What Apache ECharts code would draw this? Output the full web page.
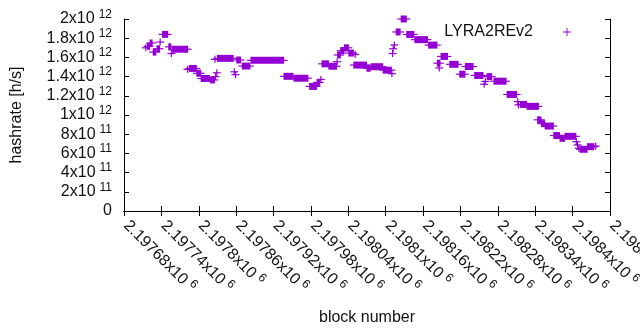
<!DOCTYPE html>
<html>
<head>
<meta charset="utf-8">
<script src="https://cdn.jsdelivr.net/npm/echarts@6/dist/echarts.min.js"></script>
<style>
  html, body { margin: 0; padding: 0; background: #fff; }
  #main { width: 640px; height: 330px; }
</style>
</head>
<body>
<div id="main"></div>
<script>
// x axis: block number
var blockMin = 2197680;
var blockMax = 2198460;
var blockStep = 60;
// y axis: hashrate
var rateMax = 2e12;
var rateStep = 2e11;

// runs of consecutive blocks sharing one hashrate value (a single point when start == end)
var runStart = [
  2197715, 2197718, 2197722, 2197727, 2197733, 2197738, 2197742, 2197752, 2197756, 2197758,
  2197782, 2197785, 2197797, 2197804, 2197819, 2197826, 2197827, 2197829, 2197830, 2197857,
  2197859, 2197861, 2197870, 2197884, 2197937, 2197953, 2197978, 2197990, 2197996, 2197998,
  2198009, 2198022, 2198023, 2198028, 2198034, 2198041, 2198049, 2198051, 2198070, 2198077,
  2198096, 2198110, 2198111, 2198112, 2198114, 2198117, 2198125, 2198134, 2198147, 2198169,
  2198183, 2198186, 2198189, 2198203, 2198219, 2198228, 2198243, 2198258, 2198260, 2198263,
  2198274, 2198295, 2198312, 2198313, 2198316, 2198327, 2198344, 2198350, 2198356, 2198370,
  2198380, 2198388, 2198406, 2198408, 2198410, 2198412, 2198424, 2198437
];
var runEnd = [
  2197715, 2197721, 2197725, 2197731, 2197737, 2197738, 2197750, 2197755, 2197756, 2197782,
  2197782, 2197796, 2197803, 2197817, 2197825, 2197826, 2197827, 2197829, 2197855, 2197857,
  2197859, 2197867, 2197882, 2197936, 2197951, 2197975, 2197989, 2197994, 2197996, 2198008,
  2198021, 2198022, 2198027, 2198033, 2198040, 2198048, 2198069, 2198051, 2198075, 2198095,
  2198109, 2198110, 2198111, 2198112, 2198114, 2198123, 2198133, 2198145, 2198167, 2198182,
  2198187, 2198186, 2198199, 2198216, 2198227, 2198240, 2198256, 2198258, 2198260, 2198270,
  2198293, 2198310, 2198312, 2198313, 2198326, 2198345, 2198349, 2198355, 2198369, 2198379,
  2198387, 2198405, 2198406, 2198408, 2198410, 2198423, 2198434, 2198437
];
var runValue = [
  1.70e12, 1.715e12, 1.75e12, 1.655e12, 1.69e12, 1.76e12, 1.84e12, 1.71e12, 1.64e12, 1.685e12,
  1.475e12, 1.485e12, 1.435e12, 1.38e12, 1.365e12, 1.58e12, 1.40e12, 1.44e12, 1.59e12, 1.45e12,
  1.42e12, 1.573e12, 1.51e12, 1.57e12, 1.403e12, 1.383e12, 1.298e12, 1.34e12, 1.37e12, 1.533e12,
  1.508e12, 1.555e12, 1.625e12, 1.67e12, 1.70e12, 1.645e12, 1.52e12, 1.63e12, 1.487e12, 1.503e12,
  1.467e12, 1.43e12, 1.64e12, 1.69e12, 1.73e12, 1.865e12, 2.0e12, 1.839e12, 1.785e12, 1.728e12,
  1.54e12, 1.49e12, 1.61e12, 1.528e12, 1.425e12, 1.505e12, 1.412e12, 1.32e12, 1.35e12, 1.40e12,
  1.352e12, 1.214e12, 1.14e12, 1.105e12, 1.11e12, 1.09e12, 0.95e12, 0.91e12, 0.885e12, 0.786e12,
  0.757e12, 0.778e12, 0.722e12, 0.688e12, 0.653e12, 0.643e12, 0.67e12, 0.677e12
];

var seriesName = 'LYRA2REv2';
var color = '#9400d3';

var myChart = echarts.init(document.getElementById('main'));

// gnuplot-like "2x10^12" labels
function sciLabel(v) {
  if (v === 0) return '{b|0}';
  var e = Math.floor(Math.log10(v) + 1e-9);
  var m = parseFloat((v / Math.pow(10, e)).toFixed(6));
  return '{b|' + m + 'x10}{s|' + e + '}';
}

var richText = {
  b: { fontSize: 16, color: '#111', fontFamily: 'Liberation Sans' },
  s: { fontSize: 12, color: '#111', fontFamily: 'Liberation Sans', padding: [0, 0, 9, 4] }
};

var tickStyle = { show: true, inside: true, length: 5, lineStyle: { color: '#000', width: 1 } };
var lineStyle = { show: true, lineStyle: { color: '#000', width: 1 } };

var data = runStart.map(function (s, i) {
  return [s, runEnd[i], runValue[i]];
});

var option = {
  animation: false,
  backgroundColor: '#fff',
  textStyle: { fontFamily: 'Liberation Sans' },
  grid: { left: 124, right: 30, top: 19, bottom: 119, containLabel: false, outerBoundsMode: 'none' },
  legend: {
    right: 64,
    top: 19,
    align: 'right',
    itemWidth: 8,
    itemHeight: 8,
    textStyle: { fontSize: 16, color: '#111', padding: [0, 25, 0, 0] },
    data: [{
      name: seriesName,
      icon: 'path://M0,4.4H10V5.6H0Z M4.4,0H5.6V10H4.4Z',
      itemStyle: { color: color }
    }]
  },
  xAxis: [{
    type: 'value',
    position: 'bottom',
    min: blockMin,
    max: blockMax,
    interval: blockStep,
    axisLine: lineStyle,
    axisTick: tickStyle,
    splitLine: { show: false },
    axisLabel: {
      rotate: -45,
      margin: 10,
      padding: [0, 0, 0, 3],
      interval: 0,
      hideOverlap: false,
      showMinLabel: true,
      showMaxLabel: true,
      formatter: sciLabel,
      rich: richText
    },
    name: 'block number',
    nameLocation: 'middle',
    nameGap: 99,
    nameTextStyle: { fontSize: 16, color: '#111' }
  }, {
    type: 'value',
    position: 'top',
    min: blockMin,
    max: blockMax,
    interval: blockStep,
    axisLine: lineStyle,
    axisTick: tickStyle,
    splitLine: { show: false },
    axisLabel: { show: false }
  }],
  yAxis: [{
    type: 'value',
    position: 'left',
    min: 0,
    max: rateMax,
    interval: rateStep,
    axisLine: lineStyle,
    axisTick: tickStyle,
    splitLine: { show: false },
    axisLabel: {
      margin: 12,
      formatter: sciLabel,
      rich: richText
    },
    name: 'hashrate [h/s]',
    nameLocation: 'middle',
    nameGap: 99,
    nameTextStyle: { fontSize: 16, color: '#111' }
  }, {
    type: 'value',
    position: 'right',
    min: 0,
    max: rateMax,
    interval: rateStep,
    axisLine: lineStyle,
    axisTick: tickStyle,
    splitLine: { show: false },
    axisLabel: { show: false }
  }],
  series: [{
    name: seriesName,
    type: 'custom',
    xAxisIndex: 0,
    yAxisIndex: 0,
    itemStyle: { color: color },
    encode: { x: [0, 1], y: 2 },
    data: data,
    renderItem: function (params, api) {
      var p1 = api.coord([api.value(0), api.value(2)]);
      var p2 = api.coord([api.value(1), api.value(2)]);
      var h = 3.5;
      return {
        type: 'group',
        children: [{
          type: 'rect',
          shape: { x: p1[0] - 0.6, y: p1[1] - h, width: p2[0] - p1[0] + 1.2, height: h * 2 },
          style: { fill: color }
        }, {
          type: 'line',
          shape: { x1: p1[0] - h - 0.5, y1: p1[1], x2: p2[0] + h + 0.5, y2: p1[1] },
          style: { stroke: color, lineWidth: 1.2 }
        }]
      };
    }
  }]
};

myChart.setOption(option);
</script>
</body>
</html>
